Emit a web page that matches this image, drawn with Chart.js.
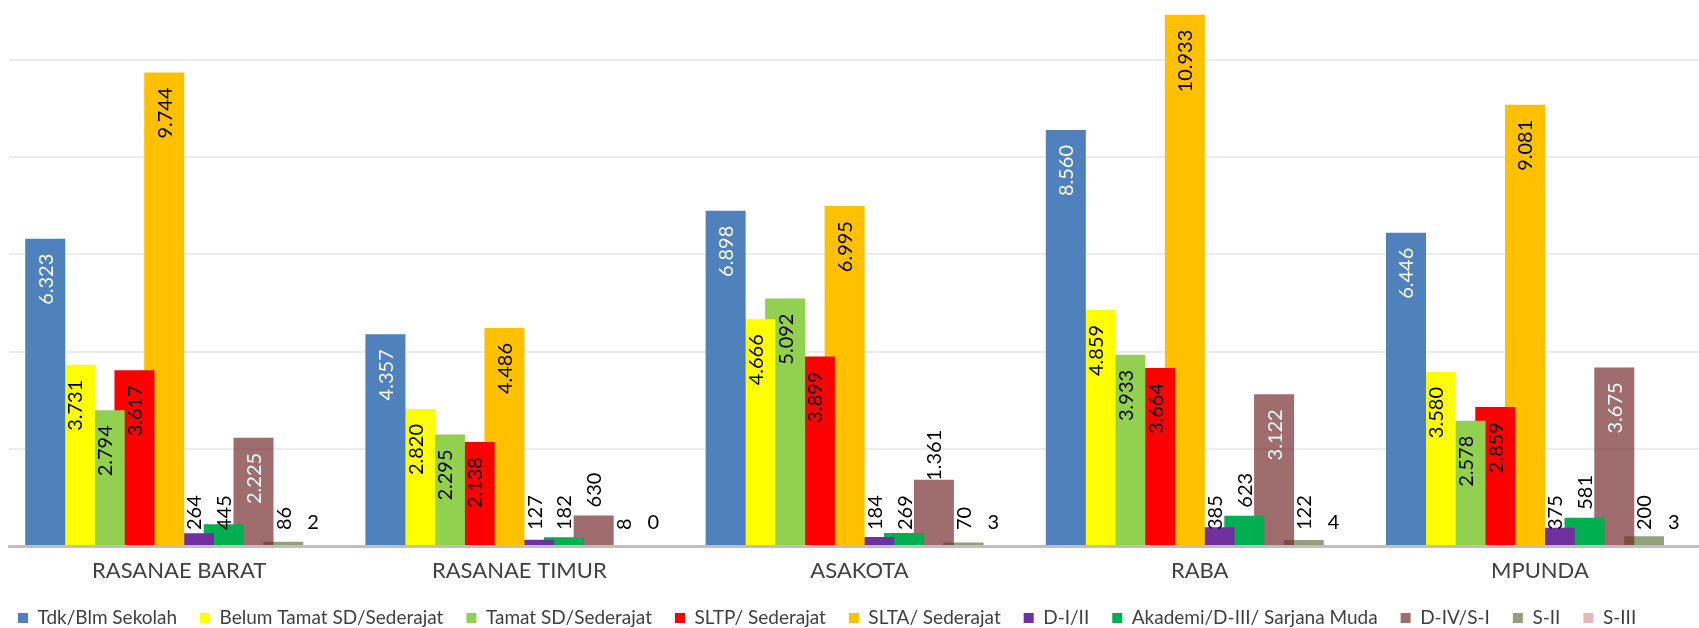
<!DOCTYPE html>
<html><head><meta charset="utf-8">
<script src="https://cdn.jsdelivr.net/npm/chart.js@4/dist/chart.umd.min.js"></script>
<style>html,body{margin:0;padding:0;overflow:hidden;background:#fff}canvas{display:block}</style>
</head><body>
<canvas id="c" width="1711" height="628" style="width:1711px;height:628px"></canvas>
<script>
const categories = ['RASANAE BARAT', 'RASANAE TIMUR', 'ASAKOTA', 'RABA', 'MPUNDA'];
const seriesNames = ['Tdk/Blm Sekolah', 'Belum Tamat SD/Sederajat', 'Tamat SD/Sederajat', 'SLTP/ Sederajat', 'SLTA/ Sederajat', 'D-I/II', 'Akademi/D-III/ Sarjana Muda', 'D-IV/S-I', 'S-II', 'S-III'];
const tdkBlmSekolah   = [6323, 4357, 6898, 8560, 6446];
const belumTamatSD    = [3731, 2820, 4666, 4859, 3580];
const tamatSD         = [2794, 2295, 5092, 3933, 2578];
const sltp            = [3617, 2138, 3899, 3664, 2859];
const slta            = [9744, 4486, 6995, 10933, 9081];
const d1d2            = [264, 127, 184, 385, 375];
const akademiD3       = [445, 182, 269, 623, 581];
const d4s1            = [2225, 630, 1361, 3122, 3675];
const s2              = [86, 8, 70, 122, 200];
const s3              = [2, 0, 3, 4, 3];
const gridTicks       = [2000, 4000, 6000, 8000, 10000];

const seriesValues = [tdkBlmSekolah, belumTamatSD, tamatSD, sltp, slta, d1d2, akademiD3, d4s1, s2, s3];
const seriesColors = ['#4F81BD', '#FFFF00', '#92D050', '#FF0000', '#FFC000', '#7030A0', '#00B050',
  'rgba(114,40,40,0.68)', 'rgba(82,102,40,0.62)', '#E6B9B8'];

Chart.defaults.font.family = 'Lato, "Open Sans", sans-serif';

const fmt = v => String(v).replace(/\B(?=(\d{3})+(?!\d))/g, '.');

const labelPlugin = {
  id: 'vlabels',
  afterDatasetsDraw(chart) {
    const ctx = chart.ctx;
    const zeroY = chart.scales.y.getPixelForValue(0);
    ctx.save();
    ctx.font = '20px Lato, "Open Sans", sans-serif';
    chart.data.datasets.forEach((ds, di) => {
      const meta = chart.getDatasetMeta(di);
      meta.data.forEach((bar, i) => {
        const v = ds.data[i];
        const txt = fmt(v);
        const x = bar.x, top = bar.y;
        if (di === 9) {
          ctx.fillStyle = '#000';
          ctx.textAlign = 'center';
          ctx.textBaseline = 'alphabetic';
          ctx.fillText(txt, x, zeroY - 17);
          return;
        }
        ctx.save();
        ctx.translate(x, 0);
        ctx.rotate(-Math.PI / 2);
        ctx.textBaseline = 'middle';
        if (v >= 2000) {
          ctx.textAlign = 'right';
          ctx.fillStyle = (di === 0 || di === 7) ? '#fff' : '#000';
          ctx.fillText(txt, -(top + 15), 1);
        } else {
          let start;
          if (v < 500) start = zeroY - 16;
          else if (v < 1000) start = top - 8;
          else start = top + 1;
          ctx.textAlign = 'left';
          ctx.fillStyle = '#000';
          ctx.fillText(txt, -start, 1);
        }
        ctx.restore();
      });
    });
    ctx.restore();
  }
};

const legendPos = {
  id: 'legendPos',
  beforeDraw(chart) {
    const lg = chart.legend;
    if (!lg) return;
    const p = lg.options.labels.padding;
    const w = lg.right - lg.left, h = lg.bottom - lg.top;
    lg.left = 18 - p; lg.right = lg.left + w;
    lg.top = 618 - 9.5 - p; lg.bottom = lg.top + h;
  }
};

const chart = new Chart(document.getElementById('c'), {
  type: 'bar',
  data: {
    labels: categories,
    datasets: seriesNames.map((name, k) => ({
      label: name,
      data: seriesValues[k],
      backgroundColor: seriesColors[k],
      borderWidth: 0,
      barPercentage: 1.345,
      categoryPercentage: 0.8745
    }))
  },
  options: {
    responsive: false,
    animation: false,
    devicePixelRatio: 1,
    layout: { padding: { left: 9, right: 1, top: 0, bottom: 0 } },
    plugins: {
      tooltip: { enabled: false },
      legend: {
        position: 'bottom',
        align: 'start',
        labels: { boxWidth: 10, boxHeight: 10, padding: 23, color: '#404040', font: { size: 19 } }
      }
    },
    scales: {
      x: {
        grid: { display: false, drawTicks: false },
        border: { display: true, color: '#BFBFBF', width: 3, z: 1 },
        ticks: { color: '#404040', font: { size: 22 }, padding: 12, maxRotation: 0 }
      },
      y: {
        min: 0, max: 11235,
        afterBuildTicks: s => { s.ticks = [0, ...gridTicks].map(v => ({ value: v })); },
        afterFit: s => { s.width = 0; },
        ticks: { display: false },
        grid: { drawTicks: false, lineWidth: 2, color: c => c.tick && c.tick.value === 0 ? 'rgba(0,0,0,0)' : '#EDEDED' },
        border: { display: false }
      }
    }
  },
  plugins: [labelPlugin, legendPos]
});
const diff = chart.chartArea.bottom - 546;
if (Math.abs(diff) > 0.1) {
  chart.options.layout.padding.bottom += diff;
  chart.update('none');
}
</script>
</body></html>
